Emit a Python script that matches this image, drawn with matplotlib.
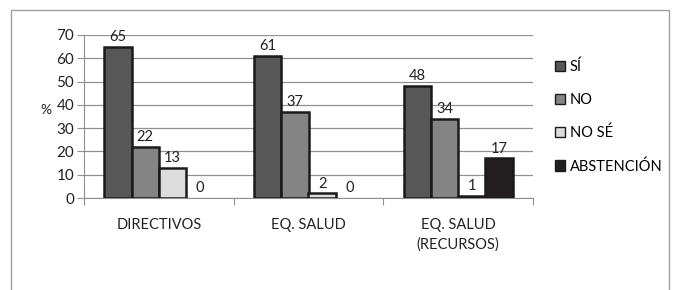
import numpy as np
import matplotlib.pyplot as plt
from matplotlib.patches import Rectangle, Patch

plt.rcParams['font.family'] = ['Lato', 'DejaVu Sans']

categories = ['DIRECTIVOS', 'EQ. SALUD', 'EQ. SALUD\n(RECURSOS)']
series_names = ['SÍ', 'NO', 'NO SÉ', 'ABSTENCIÓN']
si = [65, 61, 48]
no = [22, 37, 34]
no_se = [13, 2, 1]
abstencion = [0, 0, 17]
colors = ['#575757', '#848484', '#dcdcdc', '#231f20']

fig = plt.figure(figsize=(6.74, 2.90), dpi=100)
# outer frame of the chart (open at the bottom, as in the source)
fig.patches.append(Rectangle((11 / 674, -0.05), 658 / 674, 1.05 - 10 / 290,
                             transform=fig.transFigure, fill=False,
                             edgecolor='#a0a0a0', linewidth=1.0))

ax = fig.add_axes([84 / 674, (290 - 198) / 290, 449 / 674, 163 / 290])

x = np.arange(len(categories))
w = 1 / 5.5
values = [si, no, no_se, abstencion]
for i, vals in enumerate(values):
    pos = x + (i - 1.5) * w
    bars = ax.bar(pos, vals, width=w, color=colors[i], edgecolor='#1a1a1a',
                  linewidth=1.8, zorder=3)
    for b, v in zip(bars, vals):
        if v == 0:
            b.set_visible(False)
        ax.text(b.get_x() + b.get_width() / 2, v + 1.2, str(v),
                ha='center', va='bottom', fontsize=10.5, color='#222222', zorder=4)

ax.set_xlim(-0.5, 2.5)
ax.set_ylim(0, 70)
ax.set_yticks(range(0, 71, 10))
ax.tick_params(axis='y', labelsize=11, length=5, color='#909090', pad=2, labelcolor='#222222')
ax.set_xticks([-0.5, 0.5, 1.5, 2.5])
ax.set_xticklabels([])
ax.tick_params(axis='x', length=5, color='#909090')
for xi, lab in zip(x, categories):
    ax.text(xi, -8.5, lab, ha='center', va='top', fontsize=10.5, color='#222222',
            linespacing=1.45)
ax.grid(axis='y', color='#909090', linewidth=0.9, zorder=0)
for s in ['top', 'right']:
    ax.spines[s].set_visible(False)
ax.spines['left'].set_color('#909090')
ax.spines['bottom'].set_color('#909090')
ax.set_ylabel('%', rotation=0, fontsize=10, labelpad=8, color='#222222')
ax.yaxis.set_label_coords(-0.085, 0.5)

handles = [Patch(facecolor=c, edgecolor='#1a1a1a', linewidth=1.0) for c in colors]
ax.legend(handles, series_names, loc='center left', bbox_to_anchor=(1.02, 0.5),
          frameon=False, fontsize=10.5, handlelength=0.7, handleheight=0.7,
          handletextpad=0.3, labelspacing=1.3)

fig.savefig('out.png', dpi=100)
